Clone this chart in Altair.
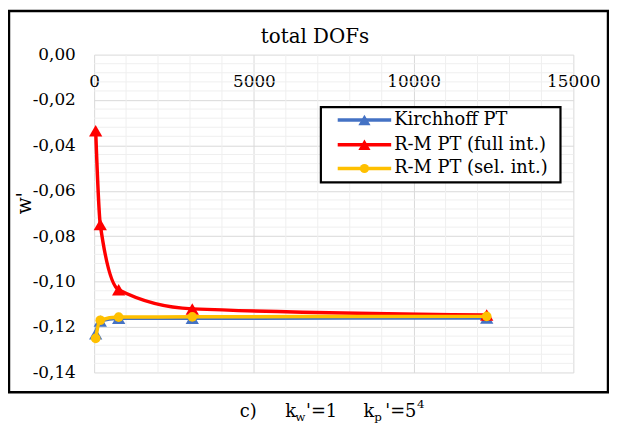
import altair as alt
import pandas as pd

# ---- data ----
dofs = [48, 192, 768, 3072, 12288]
kirchhoff = [-0.1230, -0.1173, -0.1161, -0.1161, -0.1160]
rm_full = [-0.0335, -0.0748, -0.1036, -0.1120, -0.1147]
rm_sel = [-0.1250, -0.1170, -0.1156, -0.1155, -0.1153]

series_names = ["Kirchhoff PT", "R-M PT (full int.)", "R-M PT (sel. int.)"]
series_values = [kirchhoff, rm_full, rm_sel]
series_colors = ["#4472C4", "#FF0000", "#FFC000"]
series_shapes = ["triangle-up", "triangle-up", "circle"]

x_major = [0, 5000, 10000, 15000]
y_major = [0.0, -0.02, -0.04, -0.06, -0.08, -0.10, -0.12, -0.14]
x_minor = [v for v in range(0, 15001, 1000) if v % 5000 != 0]
y_minor = [-round(i * 0.004, 3) for i in range(1, 36) if i % 5 != 0]

FONT = "DejaVu Serif"
W, H = 484, 321

rows = []
for name, vals in zip(series_names, series_values):
    for d, v in zip(dofs, vals):
        rows.append({"series": name, "dofs": d, "w": v})
df = pd.DataFrame(rows)

xscale = alt.Scale(domain=[0, 15000], nice=False, zero=False)
yscale = alt.Scale(domain=[-0.14, 0], nice=False, zero=False)

one = pd.DataFrame({"a": [0]})

layers = []

layers.append(
    alt.Chart(one).mark_rect(fillOpacity=0, stroke="black", strokeWidth=2.5).encode(
        x=alt.value(-86), x2=alt.value(519), y=alt.value(-44), y2=alt.value(341)
    )
)

layers.append(
    alt.Chart(pd.DataFrame({"v": x_minor})).mark_rule(color="#efefef", strokeWidth=1).encode(
        x=alt.X("v:Q", scale=xscale), y=alt.value(0), y2=alt.value(H)
    )
)
layers.append(
    alt.Chart(pd.DataFrame({"v": y_minor})).mark_rule(color="#efefef", strokeWidth=1).encode(
        y=alt.Y("v:Q", scale=yscale), x=alt.value(0), x2=alt.value(W)
    )
)

axis_layer = alt.Chart(df).mark_point(opacity=0).encode(
    x=alt.X(
        "dofs:Q",
        scale=xscale,
        axis=alt.Axis(
            values=x_major, orient="bottom", offset=-H, grid=True, gridColor="#d9d9d9",
            domain=False, ticks=False, tickSize=0, labelPadding=27, labelBaseline="middle",
            labelFont=FONT, labelFontSize=17, labelColor="black", labelFlush=False,
            labelOverlap=False, format="d", title=None,
        ),
    ),
    y=alt.Y(
        "w:Q",
        scale=yscale,
        axis=alt.Axis(
            values=y_major, grid=True, gridColor="#d9d9d9", domain=False, ticks=False,
            tickSize=0, labelPadding=19, labelFont=FONT, labelFontSize=17, labelColor="black",
            labelFlush=False, labelOverlap=False,
            labelExpr="(datum.value < -0.0001 ? '-' : '') + replace(format(abs(datum.value), '.2f'), '.', ',')",
            title=None,
        ),
    ),
)
layers.append(axis_layer)

for name, color, shape in zip(series_names, series_colors, series_shapes):
    base = alt.Chart(df).transform_filter(alt.datum.series == name)
    layers.append(
        base.mark_line(color=color, strokeWidth=3.5, interpolate="monotone").encode(
            x=alt.X("dofs:Q", scale=xscale), y=alt.Y("w:Q", scale=yscale)
        )
    )
    layers.append(
        base.mark_point(
            shape=shape, filled=True, color=color, opacity=1,
            size=180 if shape != "circle" else 95,
        ).encode(x=alt.X("dofs:Q", scale=xscale), y=alt.Y("w:Q", scale=yscale))
    )

layers.append(
    alt.Chart(one).mark_rect(fill="white", stroke="black", strokeWidth=2.2).encode(
        x=alt.value(229), x2=alt.value(471), y=alt.value(53), y2=alt.value(129)
    )
)
row_y = [66, 91, 115]
for name, color, shape, ry in zip(series_names, series_colors, series_shapes, row_y):
    layers.append(
        alt.Chart(one).mark_rule(color=color, strokeWidth=3.5).encode(
            x=alt.value(246), x2=alt.value(300), y=alt.value(ry)
        )
    )
    layers.append(
        alt.Chart(one).mark_point(
            shape=shape, filled=True, color=color, opacity=1,
            size=150 if shape != "circle" else 85,
        ).encode(x=alt.value(273), y=alt.value(ry))
    )
    layers.append(
        alt.Chart(one).mark_text(
            text=name, font=FONT, fontSize=18, align="left", baseline="middle", color="black"
        ).encode(x=alt.value(303), y=alt.value(ry))
    )

layers.append(
    alt.Chart(one).mark_text(
        text="total DOFs", font=FONT, fontSize=20, align="center", baseline="middle", color="black"
    ).encode(x=alt.value(223), y=alt.value(-18))
)
layers.append(
    alt.Chart(one).mark_text(
        text="w'", font=FONT, fontSize=20, align="center", baseline="middle", angle=270, color="black"
    ).encode(x=alt.value(-70), y=alt.value(150))
)

cap_y = 366
caption_parts = [
    ("c)", 147, cap_y, 18),
    ("k", 193, cap_y, 18),
    ("w", 203, cap_y + 4, 12),
    ("'=1", 214, cap_y, 18),
    ("k", 272, cap_y, 18),
    ("p", 283, cap_y + 4, 12),
    ("'=5", 294, cap_y, 18),
    ("4", 326, cap_y - 9, 12),
]
for txt, cx, cy, fs in caption_parts:
    layers.append(
        alt.Chart(one).mark_text(
            text=txt, font=FONT, fontSize=fs, align="left", baseline="alphabetic", color="black"
        ).encode(x=alt.value(cx), y=alt.value(cy))
    )

chart = (
    alt.layer(*layers)
    .properties(
        width=W,
        height=H,
        padding={"left": 87, "top": 45, "right": 36, "bottom": 52},
        autosize=alt.AutoSizeParams(type="none"),
        background="white",
    )
    .configure_view(stroke=None)
)

chart.save("out.html", embed_options={"renderer": "svg", "actions": False})
